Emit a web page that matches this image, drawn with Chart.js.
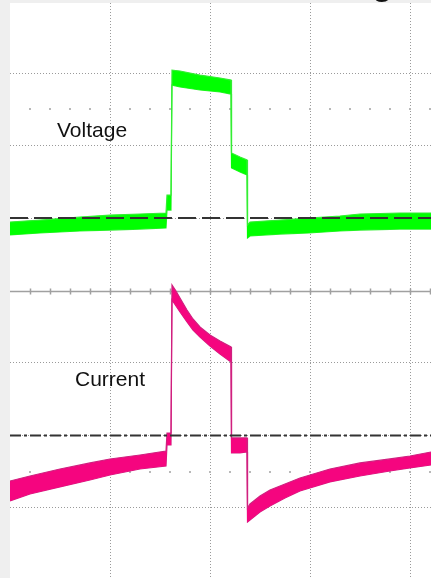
<!DOCTYPE html>
<html>
<head>
<meta charset="utf-8">
<script src="https://cdn.jsdelivr.net/npm/chart.js@4.4.1/dist/chart.umd.min.js"></script>
<style>
  html, body { margin: 0; padding: 0; background: #efefef; }
  canvas { display: block; }
</style>
</head>
<body>
<canvas id="myChart" width="431" height="578"></canvas>
<script>
// Scope trace in divisions (x: time div, y: vertical div)
// Voltage band: upper and lower edge of the noisy trace
const vTime = [0, 0.30, 0.70, 1.00, 1.30, 1.56, 1.57, 1.61, 1.62, 1.70, 1.90, 2.10, 2.21, 2.215, 2.30, 2.37, 2.375, 2.40, 2.70, 2.99, 3.30, 3.50, 3.90, 4.21];
const vHigh = [0.945, 0.972, 1.014, 1.041, 1.055, 1.069, 1.317, 1.317, 3.041, 3.028, 2.972, 2.931, 2.903, 1.897, 1.841, 1.800, 0.903, 0.945, 0.972, 1.000, 1.028, 1.055, 1.069, 1.069];
const vLow = [0.766, 0.793, 0.821, 0.834, 0.848, 0.862, 1.110, 1.110, 2.834, 2.807, 2.766, 2.738, 2.710, 1.690, 1.634, 1.593, 0.724, 0.752, 0.779, 0.793, 0.821, 0.834, 0.848, 0.848];

// Current band
const iTime = [0, 0.20, 0.50, 0.80, 1.00, 1.30, 1.56, 1.57, 1.61, 1.62, 1.66, 1.70, 1.77, 1.83, 1.90, 2.00, 2.10, 2.21, 2.215, 2.30, 2.37, 2.375, 2.40, 2.45, 2.50, 2.60, 2.75, 2.90, 3.20, 3.50, 3.80, 4.00, 4.21];
const iHigh = [-2.628, -2.559, -2.462, -2.379, -2.324, -2.269, -2.214, -1.966, -1.966, 0.076, -0.007, -0.103, -0.269, -0.393, -0.503, -0.614, -0.697, -0.779, -2.034, -2.034, -2.034, -3.000, -2.945, -2.890, -2.834, -2.752, -2.669, -2.586, -2.462, -2.379, -2.324, -2.283, -2.228];
const iLow = [-2.903, -2.807, -2.710, -2.614, -2.545, -2.462, -2.421, -2.131, -2.131, -0.131, -0.214, -0.297, -0.434, -0.545, -0.641, -0.766, -0.876, -0.986, -2.241, -2.241, -2.228, -3.193, -3.166, -3.110, -3.055, -2.972, -2.862, -2.766, -2.641, -2.559, -2.490, -2.448, -2.407];

// reference (ground) levels of the two channels
const vRefLevel = 1;
const iRefLevel = -2;

const xMin = 0, xMax = 4.21;
const yMin = -3.966, yMax = 3.966;

function pts(xs, ys) {
    return xs.map((x, i) => ({ x: x, y: ys[i] }));
}

// white screen, centre axis with ticks and the two dot rows
const screenPlugin = {
    id: 'screen',
    beforeDraw(chart) {
        const { ctx, chartArea: a } = chart;
        ctx.save();
        ctx.fillStyle = '#ffffff';
        ctx.fillRect(a.left, a.top, a.right - a.left, a.bottom - a.top);
        ctx.restore();
    },
    beforeDatasetsDraw(chart) {
        const { ctx, scales: { x, y } } = chart;
        ctx.save();
        const y0 = Math.round(y.getPixelForValue(0)) + 0.5;
        ctx.strokeStyle = '#a0a0a0';
        ctx.lineWidth = 1.5;
        ctx.beginPath();
        ctx.moveTo(x.left, y0);
        ctx.lineTo(x.right, y0);
        for (let t = 0.2; t <= xMax; t += 0.2) {
            const px = Math.round(x.getPixelForValue(t)) + 0.5;
            ctx.moveTo(px, y0 - 3);
            ctx.lineTo(px, y0 + 3);
        }
        ctx.stroke();
        ctx.fillStyle = '#b8b8b8';
        [2.5, -2.5].forEach(v => {
            const py = Math.round(y.getPixelForValue(v));
            for (let t = 0.2; t <= xMax; t += 0.2) {
                const px = Math.round(x.getPixelForValue(t));
                ctx.fillRect(px - 1, py - 1, 2, 2);
            }
        });
        ctx.restore();
    },
    afterDraw(chart) {
        const { ctx, scales: { x, y } } = chart;
        ctx.save();
        ctx.fillStyle = '#111111';
        ctx.font = '21px "Liberation Sans", Arial, sans-serif';
        ctx.textBaseline = 'alphabetic';
        ctx.fillText('Voltage', x.getPixelForValue(0.47), y.getPixelForValue(2.112));
        ctx.fillText('Current', x.getPixelForValue(0.65), y.getPixelForValue(-1.317));
        // tail of the slide title, cut off by the top edge
        ctx.font = 'bold 34px "Liberation Sans", Arial, sans-serif';
        ctx.fillText('g', 372, -5);
        ctx.restore();
    }
};

const ctx = document.getElementById('myChart').getContext('2d');
const chart = new Chart(ctx, {
    type: 'line',
    data: {
        datasets: [
            {
                label: 'Voltage ref',
                data: [{ x: xMin, y: vRefLevel }, { x: xMax, y: vRefLevel }],
                borderColor: '#333333',
                borderWidth: 2,
                borderDash: [18, 6],
                pointRadius: 0,
                fill: false
            },
            {
                label: 'Current ref',
                data: [{ x: xMin, y: iRefLevel }, { x: xMax, y: iRefLevel }],
                borderColor: '#333333',
                borderWidth: 2,
                borderDash: [11, 3, 3, 3],
                pointRadius: 0,
                fill: false
            },
            {
                label: 'Voltage',
                data: pts(vTime, vHigh),
                borderColor: '#33ee33',
                borderWidth: 1.2,
                backgroundColor: '#00ff00',
                pointRadius: 0,
                fill: '+1'
            },
            {
                label: 'Voltage low',
                data: pts(vTime, vLow),
                borderColor: '#33ee33',
                borderWidth: 1.2,
                pointRadius: 0,
                fill: false
            },
            {
                label: 'Current',
                data: pts(iTime, iHigh),
                borderColor: '#d0207f',
                borderWidth: 1.2,
                backgroundColor: '#f5057f',
                pointRadius: 0,
                fill: '+1'
            },
            {
                label: 'Current low',
                data: pts(iTime, iLow),
                borderColor: '#d0207f',
                borderWidth: 1.2,
                pointRadius: 0,
                fill: false
            }
        ]
    },
    options: {
        responsive: false,
        animation: false,
        devicePixelRatio: 1,
        layout: { padding: { left: 10, top: 3, right: 0, bottom: 0 } },
        plugins: {
            legend: { display: false },
            tooltip: { enabled: false }
        },
        scales: {
            x: {
                type: 'linear',
                min: xMin,
                max: xMax,
                afterBuildTicks: scale => {
                    scale.ticks = [1, 2, 3, 4].map(v => ({ value: v }));
                },
                ticks: { display: false },
                grid: { color: '#9a9a9a', lineWidth: 1, drawTicks: false },
                border: { display: false, dash: [1, 2] }
            },
            y: {
                type: 'linear',
                min: yMin,
                max: yMax,
                afterBuildTicks: scale => {
                    scale.ticks = [-3, -2, -1, 1, 2, 3].map(v => ({ value: v }));
                },
                ticks: { display: false },
                grid: { color: '#9a9a9a', lineWidth: 1, drawTicks: false },
                border: { display: false, dash: [1, 2] }
            }
        }
    },
    plugins: [screenPlugin]
});
</script>
</body>
</html>
